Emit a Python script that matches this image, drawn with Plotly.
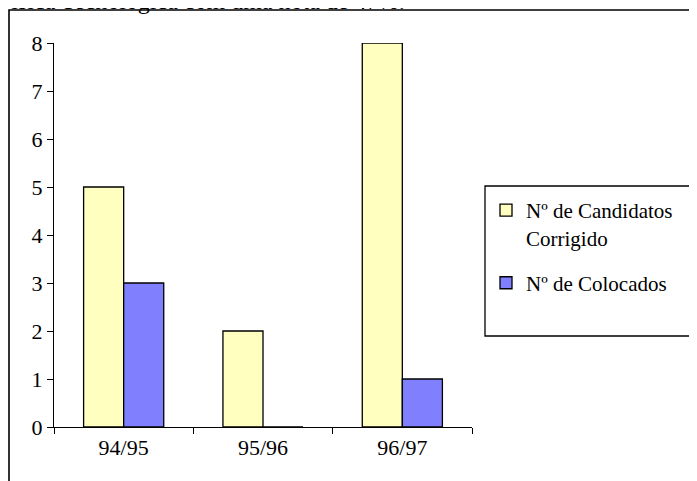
import plotly.graph_objects as go

categories = ["94/95", "95/96", "96/97"]
candidatos = [5, 2, 8]
colocados = [3, 0, 1]
series_names = ["Nº de Candidatos<br>Corrigido", "Nº de Colocados"]
yticks = [0, 1, 2, 3, 4, 5, 6, 7, 8]
title_text = "Física Tecnológica com uma nota de 47%:"

FONT = "Liberation Serif, Times New Roman, serif"
OFF = 8  # page body margin
W, H = 689, 473

fig = go.Figure()
fig.add_bar(x=categories, y=candidatos, name=series_names[0],
            marker=dict(color="#FFFFC0", line=dict(color="black", width=1.3)),
            legendgroup="a")
fig.add_bar(x=categories, y=colocados, name=series_names[1],
            marker=dict(color="#8080FF", line=dict(color="black", width=1.3)),
            legendgroup="b")

fig.update_layout(
    width=W, height=H,
    margin=dict(l=54-OFF, r=W-(54-OFF)-418, t=43-OFF, b=H-(43-OFF)-384),
    paper_bgcolor="white", plot_bgcolor="white",
    barmode="group", bargap=0.425, bargroupgap=0,
    font=dict(family=FONT, size=22, color="black"),
    showlegend=True,
    legend=dict(x=(486-OFF)/W, y=1-(190-OFF)/H, xref="container", yref="container",
                xanchor="left", yanchor="top",
                bgcolor="rgba(0,0,0,0)", borderwidth=0,
                font=dict(family=FONT, size=21, color="black"),
                valign="top", tracegroupgap=15, traceorder="grouped"),
    xaxis=dict(showline=True, linecolor="black", linewidth=1.3,
               ticks="outside", tickson="boundaries", ticklen=6, tickcolor="black",
               showgrid=False, zeroline=False),
    yaxis=dict(range=[0, 8], tickvals=yticks, showline=True, linecolor="black", linewidth=1.3,
               ticks="outside", ticklen=6, tickcolor="black",
               showgrid=False, zeroline=False),
)

# legend box
fig.add_shape(type="rect", xref="paper", yref="paper",
              x0=(485-54)/418, x1=(692-54)/418, y0=(427-336)/384, y1=(427-186)/384,
              line=dict(color="black", width=1.3), fillcolor="rgba(0,0,0,0)", layer="below")
# outer chart frame
fig.add_shape(type="rect", xref="paper", yref="paper",
              x0=(9-54)/418, x1=2.0, y0=-0.5, y1=(427-10)/384,
              line=dict(color="black", width=1.6), fillcolor="rgba(0,0,0,0)", layer="below")

fig.add_annotation(text=title_text, xref="paper", yref="paper",
                   x=(-4-54)/418, y=(427-16)/384, xanchor="left", yanchor="bottom",
                   showarrow=False, font=dict(family=FONT, size=24, color="black"))

fig.write_html("out.html")
